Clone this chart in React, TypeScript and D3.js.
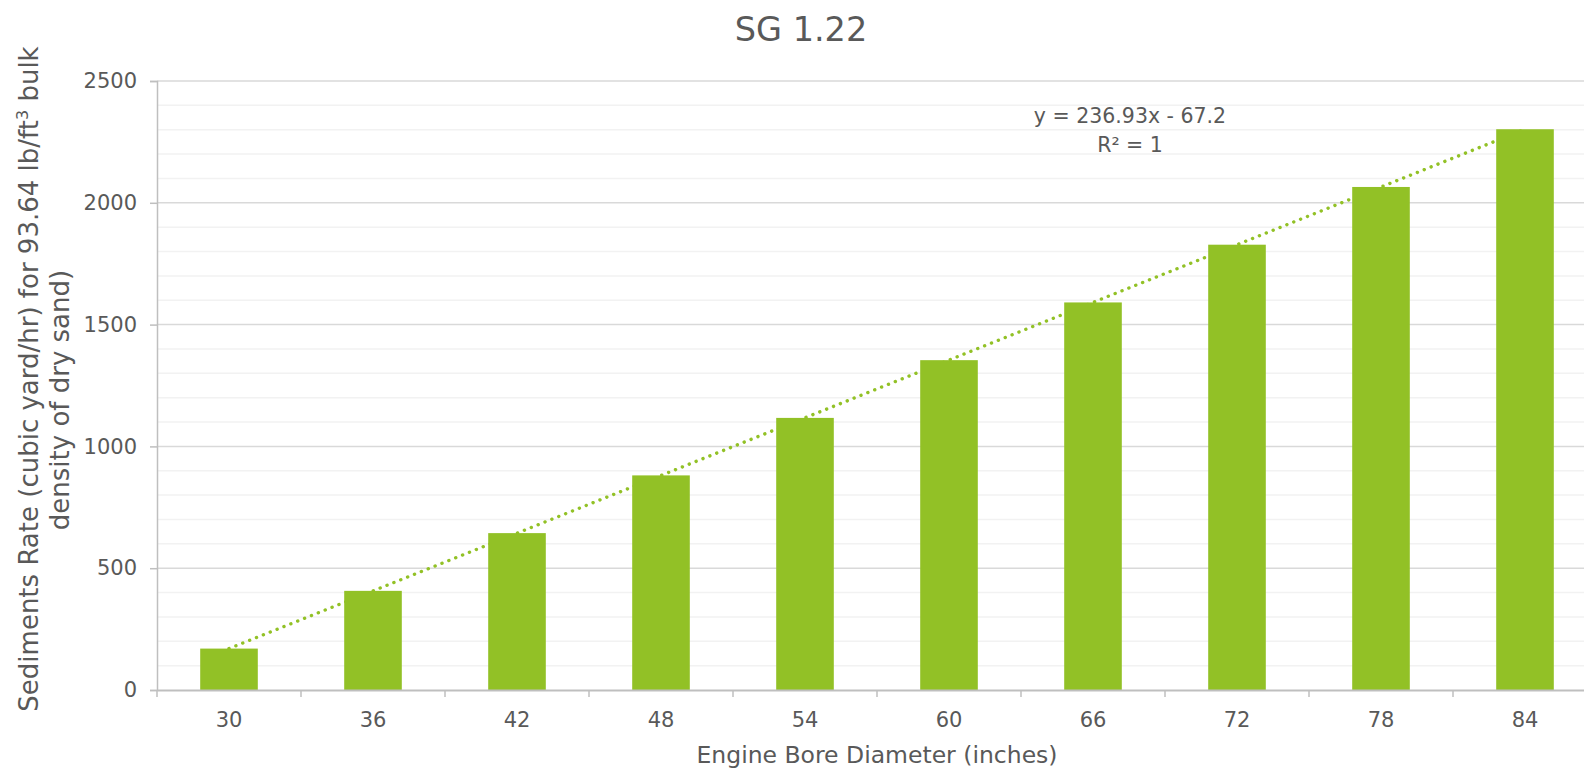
import { useEffect, useRef } from 'react';
import * as d3 from 'd3';

// Chart data
const categories = ['30', '36', '42', '48', '54', '60', '66', '72', '78', '84'];
const sedimentRates = [170, 407, 644, 881, 1117, 1354, 1591, 1828, 2065, 2302];
const yTicks = [0, 500, 1000, 1500, 2000, 2500];
const minorTicks = [100, 200, 300, 400, 600, 700, 800, 900, 1100, 1200, 1300, 1400, 1600, 1700, 1800, 1900, 2100, 2200, 2300, 2400];
const trendLabel = ['y = 236.93x - 67.2', 'R² = 1'];

const W = 1584;
const H = 772;
const FONT = '"DejaVu Sans", sans-serif';
const TEXT = '#595959';
const GREEN = '#92C126';

export default function App() {
  const svgRef = useRef<SVGSVGElement>(null);

  useEffect(() => {
    if (!svgRef.current) return;
    const svg = d3.select(svgRef.current);
    svg.selectAll('*').remove();

    const margin = { top: 81, left: 157, bottom: H - 690 };
    const innerWidth = 1440;
    const innerHeight = H - margin.top - margin.bottom;

    const g = svg
      .append('g')
      .attr('transform', `translate(${margin.left},${margin.top})`);

    const x = d3.scaleBand().domain(categories).range([0, innerWidth]).paddingInner(0.6).paddingOuter(0.3);
    const band = d3.scaleBand().domain(categories).range([0, innerWidth]);
    const y = d3.scaleLinear().domain([0, 2500]).range([innerHeight, 0]);

    // minor grid
    g.selectAll('line.minor')
      .data(minorTicks)
      .join('line')
      .attr('x1', 0)
      .attr('x2', innerWidth)
      .attr('y1', (d) => y(d))
      .attr('y2', (d) => y(d))
      .attr('stroke', '#f2f2f2')
      .attr('stroke-width', 1.5);

    // major grid
    g.selectAll('line.major')
      .data(yTicks.slice(1))
      .join('line')
      .attr('x1', 0)
      .attr('x2', innerWidth)
      .attr('y1', (d) => y(d))
      .attr('y2', (d) => y(d))
      .attr('stroke', '#d9d9d9')
      .attr('stroke-width', 1.5);

    // linear trendline (least squares on the bar values), drawn behind the bars
    const idx = sedimentRates.map((_, i) => i + 1);
    const mx = d3.mean(idx) as number;
    const my = d3.mean(sedimentRates) as number;
    const slope =
      d3.sum(idx, (v, i) => (v - mx) * (sedimentRates[i] - my)) /
      d3.sum(idx, (v) => (v - mx) ** 2);
    const icpt = my - slope * mx;
    const cx = (i: number) => (band(categories[i]) || 0) + band.bandwidth() / 2;
    const line = d3
      .line<number>()
      .x((_, i) => cx(i === 0 ? 0 : categories.length - 1))
      .y((v) => y(slope * v + icpt));
    g.append('path')
      .attr('d', line([1, categories.length]))
      .attr('fill', 'none')
      .attr('stroke', GREEN)
      .attr('stroke-width', 3.4)
      .attr('stroke-linecap', 'round')
      .attr('stroke-dasharray', '0.1 7.3');

    // bars
    g.selectAll('rect.bar')
      .data(sedimentRates)
      .join('rect')
      .attr('x', (_, i) => x(categories[i]) || 0)
      .attr('y', (d) => y(d))
      .attr('width', x.bandwidth())
      .attr('height', (d) => innerHeight - y(d))
      .attr('fill', GREEN);

    // y axis
    const yAxis = g
      .append('g')
      .call(d3.axisLeft(y).tickValues(yTicks).tickFormat(d3.format('d')).tickSize(7).tickPadding(13));
    yAxis.selectAll('.tick line').attr('stroke', '#bfbfbf').attr('stroke-width', 1.5);
    yAxis.select('.domain').attr('stroke', '#bfbfbf').attr('stroke-width', 1.5);
    yAxis.selectAll('text').attr('fill', TEXT).attr('font-size', 21).attr('font-family', FONT);

    // x axis
    const xAxis = g
      .append('g')
      .attr('transform', `translate(0,${innerHeight})`)
      .call(d3.axisBottom(band).tickSize(0).tickPadding(22));
    xAxis.select('.domain').attr('stroke', '#bfbfbf').attr('stroke-width', 2);
    xAxis.selectAll('text').attr('fill', TEXT).attr('font-size', 21).attr('font-family', FONT);
    xAxis
      .selectAll('line.sep')
      .data(categories)
      .join('line')
      .attr('class', 'sep')
      .attr('x1', (d) => band(d) || 0)
      .attr('x2', (d) => band(d) || 0)
      .attr('y1', 0)
      .attr('y2', 7)
      .attr('stroke', '#bfbfbf')
      .attr('stroke-width', 1.5);

    // trend label
    svg
      .selectAll('text.trend')
      .data(trendLabel)
      .join('text')
      .attr('x', 1130)
      .attr('y', (_, i) => 123 + i * 29)
      .attr('text-anchor', 'middle')
      .attr('fill', TEXT)
      .attr('font-size', 20.5)
      .attr('font-family', FONT)
      .text((d) => d);

    // title
    svg
      .append('text')
      .attr('x', 801)
      .attr('y', 41)
      .attr('text-anchor', 'middle')
      .attr('fill', TEXT)
      .attr('font-size', 33.5)
      .attr('font-family', FONT)
      .text('SG 1.22');

    // x axis title
    svg
      .append('text')
      .attr('x', 877)
      .attr('y', 763)
      .attr('text-anchor', 'middle')
      .attr('fill', TEXT)
      .attr('font-size', 23.5)
      .attr('font-family', FONT)
      .text('Engine Bore Diameter (inches)');

    // y axis title
    const yt = svg
      .append('text')
      .attr('transform', 'rotate(-90)')
      .attr('text-anchor', 'middle')
      .attr('fill', TEXT)
      .attr('font-size', 26)
      .attr('font-family', FONT);
    const l1 = yt.append('tspan').attr('x', -379).attr('y', 38);
    l1.append('tspan').text('Sediments Rate (cubic yard/hr) for 93.64 lb/ft');
    l1.append('tspan').attr('dy', -10).attr('font-size', 16).text('3');
    l1.append('tspan').attr('dy', 10).text(' bulk');
    yt.append('tspan').attr('x', -400).attr('y', 69).text('density of dry sand)');
  }, []);

  return (
    <svg
      ref={svgRef}
      width={W}
      height={H}
      style={{ position: 'absolute', left: 0, top: 0, background: '#fff' }}
    />
  );
}
